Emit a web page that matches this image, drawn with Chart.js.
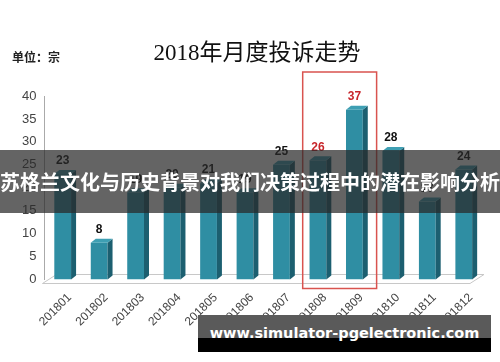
<!DOCTYPE html>
<html>
<head>
<meta charset="utf-8">
<script src="https://cdn.jsdelivr.net/npm/chart.js@4/dist/chart.umd.min.js"></script>
<style>
  html, body { margin: 0; padding: 0; background: #fff; }
  .wrap { position: relative; width: 500px; height: 362px; overflow: hidden; }
  canvas { position: absolute; left: 0; top: 0; }
  .title { position: absolute; left: 0; width: 514px; top: 33px; text-align: center;
    font-family: "Liberation Serif", "Noto Sans CJK SC", serif; font-size: 23px; color: #111; }
  .unit { position: absolute; left: 12px; top: 48px; font-family: "Noto Sans CJK SC", sans-serif;
    font-size: 12px; font-weight: bold; color: #222; }
  .band { position: absolute; left: 0; top: 150px; width: 500px; height: 63px;
    background: rgba(40,40,40,0.72); color: #fff; text-align: center;
    font-family: "Noto Sans CJK SC", sans-serif; font-weight: bold; font-size: 20px;
    line-height: 63px; white-space: nowrap; }
  .url { position: absolute; left: 198px; top: 315px; width: 293px; height: 37px;
    background: linear-gradient(#5a5a5a 0, #5a5a5a 62%, #000 62%, #000 100%);
    color: #fff; font-family: "DejaVu Sans", sans-serif; font-weight: bold; font-size: 14.5px;
    line-height: 36px; text-align: center; white-space: nowrap; }
</style>
</head>
<body>
<div class="wrap">
  <canvas id="c" width="500" height="362"></canvas>
  <div class="title">2018年月度投诉走势</div>
  <div class="unit">单位：宗</div>
  <div class="band">苏格兰文化与历史背景对我们决策过程中的潜在影响分析</div>
  <div class="url">www.simulator-pgelectronic.com</div>
</div>
<script>
// monthly complaint counts
const months = ['201801', '201802', '201803', '201804', '201805', '201806',
                '201807', '201808', '201809', '201810', '201811', '201812'];
const complaints = [23, 8, 19, 20, 21, 19, 25, 26, 37, 28, 17, 24];
const highlighted = ['201808', '201809'];
const yTicks = [0, 5, 10, 15, 20, 25, 30, 35, 40];

// 3D look: side + top faces, floor, value labels, red box
const bar3d = {
  id: 'bar3d',
  beforeDatasetsDraw(chart) {
    const { ctx, chartArea: a } = chart;
    const y0 = chart.scales.y.getPixelForValue(0);
    ctx.save();
    ctx.strokeStyle = '#c8c8c8';
    ctx.lineWidth = 1;
    ctx.beginPath();
    ctx.moveTo(a.left - 2, y0 + 4);
    ctx.lineTo(a.left + 12, y0 - 5);
    ctx.lineTo(a.right + 2, y0 - 5);
    ctx.lineTo(a.right - 12, y0 + 4);
    ctx.closePath();
    ctx.stroke();
    ctx.restore();
  },
  afterDatasetsDraw(chart) {
    const { ctx } = chart;
    const meta = chart.getDatasetMeta(0);
    const d = 5, dy = 4;
    ctx.save();
    meta.data.forEach((bar, i) => {
      const w = bar.width, x = bar.x, y = bar.y, b = bar.base;
      const r = x + w / 2, l = x - w / 2;
      ctx.fillStyle = '#1c5f70';
      ctx.beginPath();
      ctx.moveTo(r, y); ctx.lineTo(r + d, y - dy); ctx.lineTo(r + d, b - dy); ctx.lineTo(r, b);
      ctx.closePath(); ctx.fill();
      ctx.fillStyle = '#3e9fb3';
      ctx.beginPath();
      ctx.moveTo(l, y); ctx.lineTo(l + d, y - dy); ctx.lineTo(r + d, y - dy); ctx.lineTo(r, y);
      ctx.closePath(); ctx.fill();
      const red = highlighted.includes(months[i]);
      ctx.fillStyle = red ? '#c8262b' : '#111';
      ctx.font = 'bold 12px "Liberation Sans", Arial, sans-serif';
      ctx.textAlign = 'center';
      ctx.textBaseline = 'bottom';
      ctx.fillText(complaints[i], x, y - 7);
    });
    // red box round highlighted months
    const xs = chart.scales.x;
    const step = xs.getPixelForValue(1) - xs.getPixelForValue(0);
    const i0 = months.indexOf(highlighted[0]), i1 = months.indexOf(highlighted[highlighted.length - 1]);
    const bx0 = xs.getPixelForValue(i0) - step / 2 + 3;
    const bx1 = xs.getPixelForValue(i1) + step / 2 + 4;
    const top = chart.chartArea.top - 24, bottom = chart.chartArea.bottom + 9;
    ctx.strokeStyle = '#d9534f';
    ctx.lineWidth = 1.5;
    ctx.strokeRect(bx0, top, bx1 - bx0, bottom - top);
    ctx.restore();
  }
};

new Chart(document.getElementById('c'), {
  type: 'bar',
  data: {
    labels: months,
    datasets: [{
      data: complaints,
      backgroundColor: ctx => {
        const el = ctx.chart.getDatasetMeta(0).data[ctx.dataIndex];
        if (!el || !Number.isFinite(el.x) || !Number.isFinite(el.width)) return '#2f8ea3';
        const g = ctx.chart.ctx.createLinearGradient(el.x - el.width / 2, 0, el.x + el.width / 2, 0);
        g.addColorStop(0, '#2a8197');
        g.addColorStop(0.3, '#3597ad');
        g.addColorStop(1, '#2a8499');
        return g;
      },
      borderWidth: 0,
      barPercentage: 0.46,
      categoryPercentage: 1
    }]
  },
  options: {
    responsive: false,
    animation: false,
    layout: { padding: { top: 96, right: 18, bottom: 30, left: 18 } },
    plugins: { legend: { display: false }, tooltip: { enabled: false } },
    scales: {
      x: {
        grid: { display: false, drawTicks: true },
        border: { display: false },
        ticks: { minRotation: 45, maxRotation: 45, color: '#444', labelOffset: 7,
          font: { family: '"Liberation Sans", Arial, sans-serif', size: 12 } }
      },
      y: {
        min: 0, max: 40,
        afterBuildTicks: s => { s.ticks = yTicks.map(v => ({ value: v })); },
        grid: { display: false, drawTicks: true, tickLength: 4 },
        border: { display: true, color: '#aaa' },
        ticks: { color: '#444', padding: 4,
          font: { family: '"Liberation Sans", Arial, sans-serif', size: 13 } }
      }
    }
  },
  plugins: [bar3d]
});
</script>
</body>
</html>
